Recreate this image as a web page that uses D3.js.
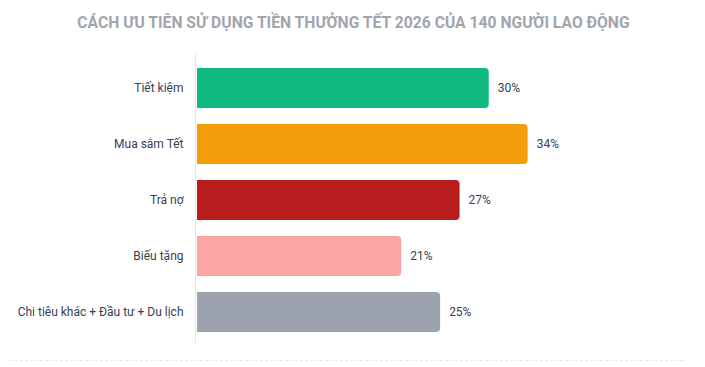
<!DOCTYPE html>
<html>
<head>
<meta charset="utf-8">
<script src="https://cdn.jsdelivr.net/npm/d3@7"></script>
<style>
  body { margin: 0; background: #fff; }
  svg { display: block; font-family: Roboto, "Noto Sans", sans-serif; }
</style>
</head>
<body>
<svg id="chart"></svg>
<script>
// data
const categories = ["Tiết kiệm", "Mua sắm Tết", "Trả nợ", "Biếu tặng", "Chi tiêu khác + Đầu tư + Du lịch"];
const values = [30, 34, 27, 21, 25];
const colors = ["#10b981", "#f59e0b", "#b91c1c", "#fca5a5", "#9ca3af"];
const title = "CÁCH ƯU TIÊN SỬ DỤNG TIỀN THƯỞNG TẾT 2026 CỦA 140 NGƯỜI LAO ĐỘNG";

const width = 705;
const height = 367;
const margin = { top: 52, right: 119, bottom: 24, left: 197 };

const svg = d3.select("#chart")
    .attr("width", width)
    .attr("height", height);

const data = categories.map((c, i) => ({ name: c, value: values[i], color: colors[i] }));

const xScale = d3.scaleLinear()
    .domain([0, 40])
    .range([margin.left, width - margin.right]);

const yScale = d3.scaleBand()
    .domain(categories)
    .range([60, 340])
    .paddingInner(16 / 56)
    .paddingOuter(8 / 56);

// title
svg.append("text")
    .attr("x", width / 2 + 1)
    .attr("y", 28)
    .attr("text-anchor", "middle")
    .style("font-size", "15.7px")
    .style("font-weight", "bold")
    .style("fill", "#a1a5ad")
    .text(title);

// bottom dashed line
svg.append("line")
    .attr("x1", 10)
    .attr("x2", 686)
    .attr("y1", 360.5)
    .attr("y2", 360.5)
    .attr("stroke", "#e5e7eb")
    .attr("stroke-dasharray", "3,2");

// y axis
const yAxis = d3.axisLeft(yScale).tickSize(0).tickPadding(12);
const yg = svg.append("g")
    .attr("transform", "translate(" + (margin.left - 1.5) + ",0)")
    .call(yAxis);
yg.select(".domain")
    .attr("d", "M0,52V343")
    .attr("stroke", "#e5e7eb");
yg.selectAll("text")
    .style("font-size", "12px")
    .style("fill", "#374151")
    .style("font-family", "Roboto, 'Noto Sans', sans-serif");

// bars with rounded right end
function barPath(d) {
    const x0 = xScale(0), x1 = xScale(d.value);
    const y0 = yScale(d.name), h = yScale.bandwidth();
    const r = 4;
    return "M" + x0 + "," + y0 +
        "H" + (x1 - r) +
        "Q" + x1 + "," + y0 + " " + x1 + "," + (y0 + r) +
        "V" + (y0 + h - r) +
        "Q" + x1 + "," + (y0 + h) + " " + (x1 - r) + "," + (y0 + h) +
        "H" + x0 + "Z";
}

svg.selectAll(".bar")
    .data(data)
    .enter()
    .append("path")
    .attr("class", "bar")
    .attr("d", barPath)
    .attr("fill", d => d.color);

svg.selectAll(".bar-label")
    .data(data)
    .enter()
    .append("text")
    .attr("class", "bar-label")
    .attr("x", d => xScale(d.value) + 9)
    .attr("y", d => yScale(d.name) + yScale.bandwidth() / 2)
    .attr("dy", "0.35em")
    .style("font-size", "12px")
    .style("fill", "#374151")
    .text(d => d.value + "%");
</script>
</body>
</html>
